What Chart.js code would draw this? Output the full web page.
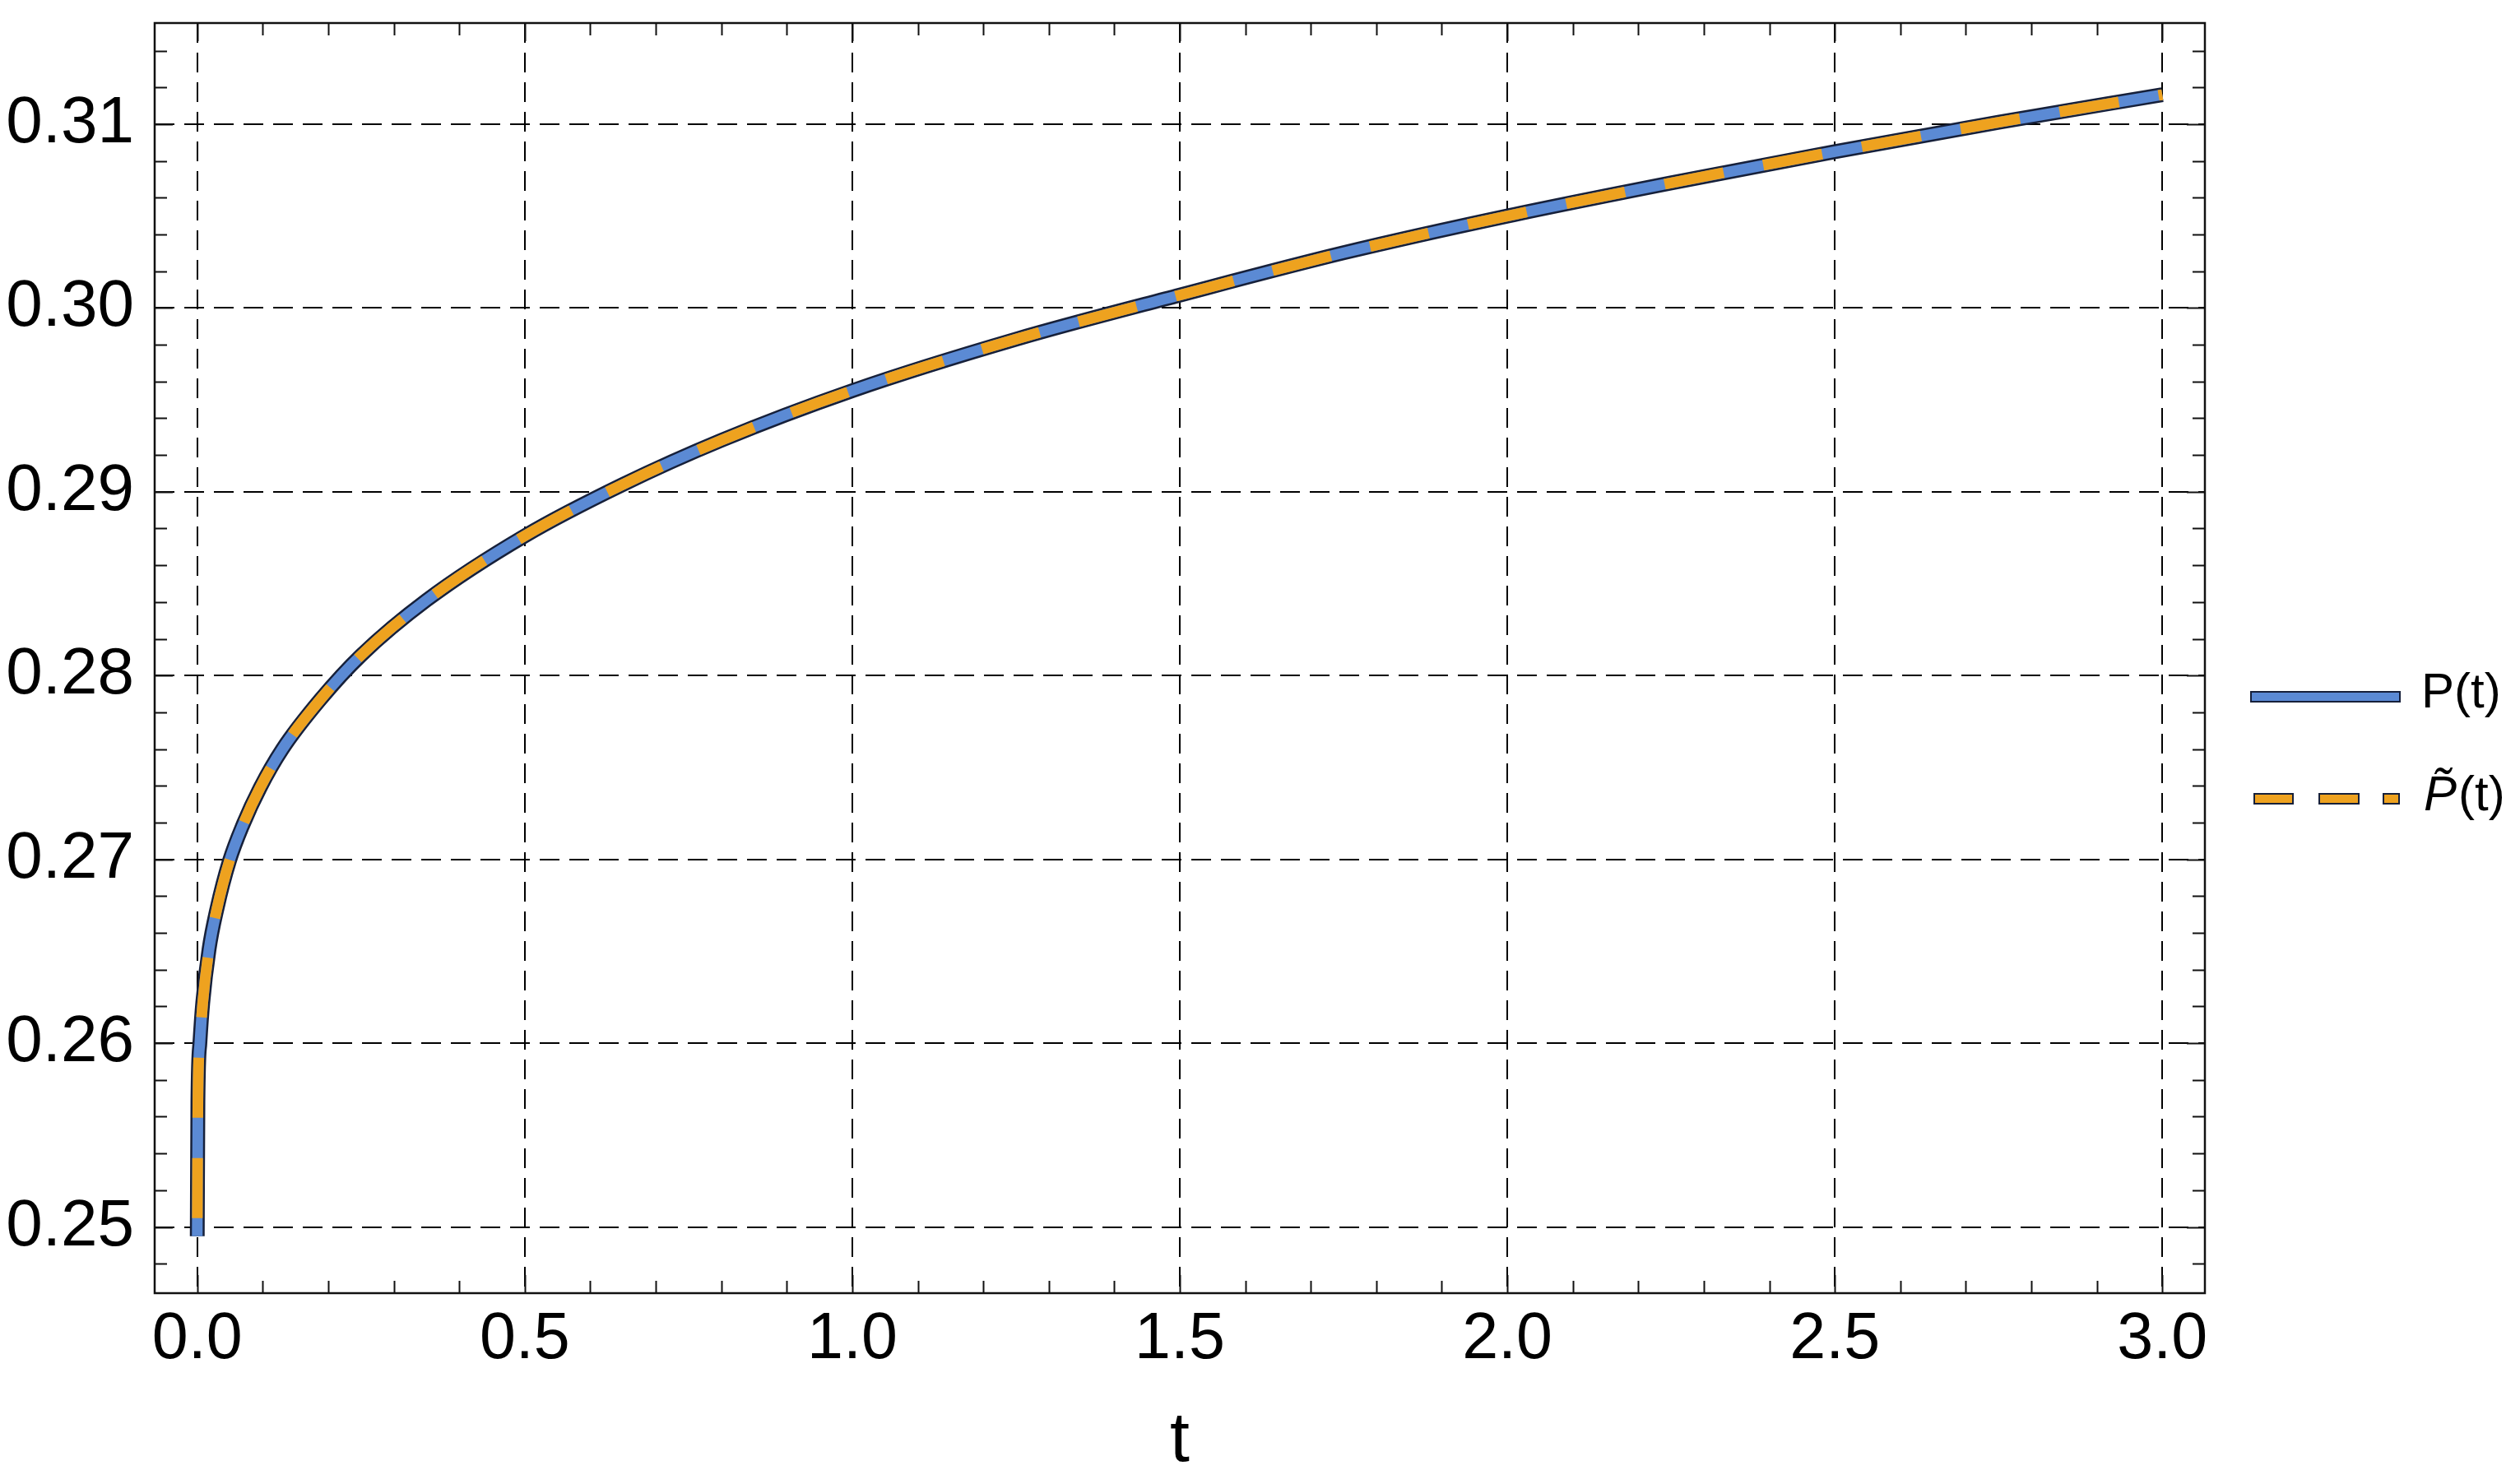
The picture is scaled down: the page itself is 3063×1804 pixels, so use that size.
<!DOCTYPE html>
<html>
<head>
<meta charset="utf-8">
<title>P(t)</title>
<script src="https://cdn.jsdelivr.net/npm/chart.js@4.4.1/dist/chart.umd.min.js"></script>
<style>
  html, body { margin: 0; padding: 0; background: #fff; }
  #wrap { width: 3063px; height: 1804px; }
</style>
</head>
<body>
<div id="wrap"><canvas id="myChart"></canvas></div>
<script>
// values
const tValues = [0, 0.001, 0.004, 0.0084, 0.018, 0.03, 0.049, 0.07, 0.096, 0.13, 0.188, 0.25, 0.35,
                 0.5, 0.65, 0.8, 1.0, 1.25, 1.5, 1.75, 2.0, 2.25, 2.5, 2.75, 3.0];
const pValues = [0.2495, 0.2568, 0.2600, 0.2622, 0.2651, 0.2673, 0.2699, 0.2719, 0.2739, 0.2760, 0.2787, 0.2811, 0.2841,
                 0.2876, 0.2904, 0.2928, 0.2955, 0.2983, 0.3007, 0.3030, 0.3050, 0.3068, 0.3085, 0.3101, 0.3116];
const pTildeValues = [0.2495, 0.2568, 0.2600, 0.2622, 0.2651, 0.2673, 0.2699, 0.2719, 0.2739, 0.2760, 0.2787, 0.2811, 0.2841,
                 0.2876, 0.2904, 0.2928, 0.2955, 0.2983, 0.3007, 0.3030, 0.3050, 0.3068, 0.3085, 0.3101, 0.3116];

const xTicks = [0, 0.5, 1.0, 1.5, 2.0, 2.5, 3.0];
const yTicks = [0.25, 0.26, 0.27, 0.28, 0.29, 0.30, 0.31];
const seriesNames = ['P(t)', 'P\u0303(t)'];

const BLUE = '#5b8ad4';
const ORANGE = '#eea21f';
const EDGE = '#16203a';
const FONT = '"Liberation Sans", Arial, sans-serif';

const pts = vals => tValues.map((t, i) => ({ x: t, y: vals[i] }));

// frame with inward ticks on all four sides, plus the legend on the right
const frameAndLegend = {
  id: 'frameAndLegend',
  afterDraw(chart) {
    const { ctx, chartArea: a, scales: { x, y } } = chart;
    ctx.save();
    ctx.strokeStyle = '#111';
    ctx.lineWidth = 2;
    ctx.beginPath();
    for (let i = 0; i <= 30; i++) {
      const px = Math.round(x.getPixelForValue(i / 10)) + 0.5;
      const len = i % 5 === 0 ? 22 : 15;
      ctx.moveTo(px, a.bottom); ctx.lineTo(px, a.bottom - len);
      ctx.moveTo(px, a.top); ctx.lineTo(px, a.top + len);
    }
    for (let j = 0; j <= 35; j++) {
      const v = 0.246 + j * 0.002;
      if (v < y.min || v > y.max) continue;
      const py = Math.round(y.getPixelForValue(v)) + 0.5;
      const len = (j - 2) % 5 === 0 ? 22 : 15;
      ctx.moveTo(a.left, py); ctx.lineTo(a.left + len, py);
      ctx.moveTo(a.right, py); ctx.lineTo(a.right - len, py);
    }
    ctx.stroke();
    ctx.lineWidth = 2.5;
    ctx.strokeRect(a.left, a.top, a.right - a.left, a.bottom - a.top);

    // legend
    const lx = a.right + 56;
    const y1 = 847, y2 = 971;
    ctx.lineWidth = 2;
    ctx.strokeStyle = EDGE;
    ctx.fillStyle = BLUE;
    ctx.fillRect(lx, y1 - 6, 181, 12);
    ctx.strokeRect(lx, y1 - 6, 181, 12);
    ctx.fillStyle = ORANGE;
    [[4, 47], [83, 48], [161, 19]].forEach(([o, w]) => {
      ctx.fillRect(lx + o, y2 - 6, w, 12);
      ctx.strokeRect(lx + o, y2 - 6, w, 12);
    });
    ctx.fillStyle = '#000';
    ctx.textBaseline = 'alphabetic';
    ctx.textAlign = 'left';
    ctx.font = '60px ' + FONT;
    ctx.fillText(seriesNames[0], lx + 207, 860);
    ctx.font = 'italic 60px ' + FONT;
    const pw = ctx.measureText('P').width;
    ctx.fillText('P\u0303', lx + 210, 985);
    ctx.font = '60px ' + FONT;
    ctx.fillText('(t)', lx + 210 + pw + 2, 985);
    ctx.restore();
  }
};

const ctx = document.getElementById('myChart');

const myChart = new Chart(ctx, {
  type: 'line',
  data: {
    datasets: [
      {
        label: seriesNames[1],
        data: pts(pTildeValues),
        borderColor: ORANGE,
        borderWidth: 13,
        borderDash: [73, 49],
        borderDashOffset: 100,
        borderCapStyle: 'butt',
        order: 1
      },
      {
        label: seriesNames[0],
        data: pts(pValues),
        borderColor: BLUE,
        borderWidth: 13,
        borderCapStyle: 'butt',
        order: 2
      },
      {
        label: 'edge',
        data: pts(pValues),
        borderColor: EDGE,
        borderWidth: 18,
        borderCapStyle: 'butt',
        order: 3
      }
    ]
  },
  options: {
    responsive: true,
    maintainAspectRatio: false,
    animation: false,
    layout: { padding: { top: 28, right: 383, left: 0, bottom: 0 } },
    elements: {
      point: { radius: 0 },
      line: { cubicInterpolationMode: 'monotone', fill: false }
    },
    plugins: {
      legend: { display: false },
      tooltip: { enabled: false }
    },
    scales: {
      x: {
        type: 'linear',
        min: -0.065,
        max: 3.065,
        afterBuildTicks: s => { s.ticks = xTicks.map(v => ({ value: v })); },
        afterFit: s => { s.height = 232; s.paddingLeft = 0; s.paddingRight = 0; },
        ticks: {
          color: '#000',
          font: { family: FONT, size: 79 },
          padding: 10,
          maxRotation: 0,
          callback: v => Number(v).toFixed(1)
        },
        grid: { color: '#000', lineWidth: 2, drawTicks: false },
        border: { display: false, dash: [24, 12] },
        title: {
          display: true,
          text: 't',
          color: '#000',
          font: { family: FONT, size: 86 },
          padding: { top: 0, bottom: 0 }
        }
      },
      y: {
        type: 'linear',
        min: 0.2464,
        max: 0.3155,
        afterBuildTicks: s => { s.ticks = yTicks.map(v => ({ value: v })); },
        afterFit: s => { s.width = 188; s.paddingTop = 0; s.paddingBottom = 0; },
        ticks: {
          color: '#000',
          font: { family: FONT, size: 80 },
          padding: 25,
          callback: v => Number(v).toFixed(2)
        },
        grid: { color: '#000', lineWidth: 2, drawTicks: false },
        border: { display: false, dash: [24, 12] }
      }
    }
  },
  plugins: [frameAndLegend]
});
</script>
</body>
</html>
